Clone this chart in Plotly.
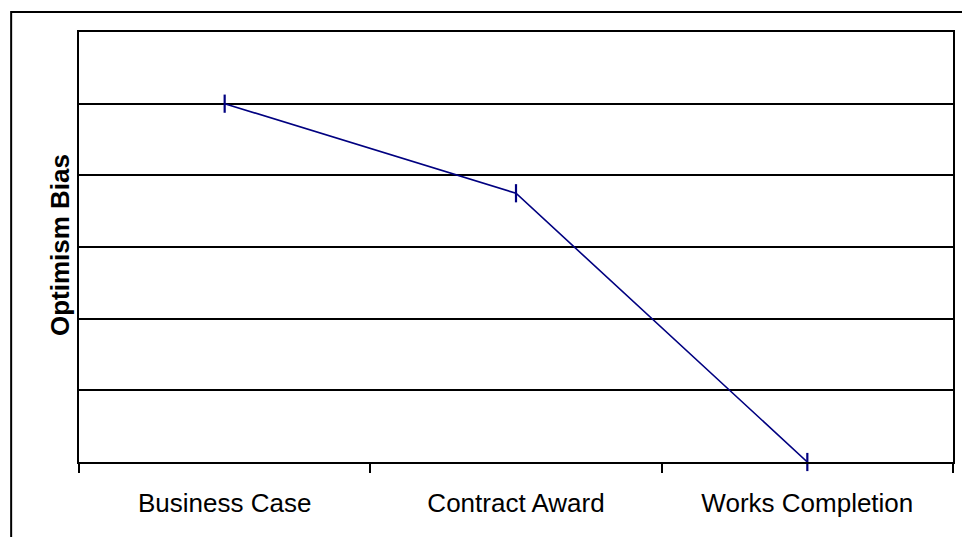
import plotly.graph_objects as go

categories = ["Business Case", "Contract Award", "Works Completion"]
optimism_bias = [5.0, 3.75, 0.0]
y_title = "Optimism Bias"

W, H = 962, 537
L, R, T, B = 79, 7, 32, 75
pw, ph = W - L - R, H - T - B

fig = go.Figure()
fig.add_trace(go.Scatter(
    x=categories, y=optimism_bias, mode="lines+markers",
    line=dict(color="#000080", width=1.6),
    marker=dict(symbol="line-ns", size=13, line=dict(color="#000080", width=2.2)),
    cliponaxis=False, showlegend=False, hoverinfo="skip",
))

fig.update_layout(
    width=W, height=H,
    margin=dict(l=L, r=R, t=T, b=B),
    paper_bgcolor="white", plot_bgcolor="white",
    font=dict(family="Liberation Sans, Arial, sans-serif", color="black"),
    xaxis=dict(
        type="category", range=[-0.5, 2.5], tickson="boundaries",
        ticks="outside", ticklen=9, tickwidth=1.5, tickcolor="black",
        showline=True, linecolor="black", linewidth=2, mirror=True,
        showgrid=False, tickfont=dict(size=26), zeroline=False,
        ticklabelstandoff=17,
    ),
    yaxis=dict(
        range=[0, 6], dtick=1, showgrid=True, gridcolor="black", gridwidth=1.5,
        showticklabels=False, ticks="", showline=True, linecolor="black",
        linewidth=2, mirror=True, zeroline=False,
    ),
    shapes=[dict(
        type="rect", xref="paper", yref="paper",
        x0=(11 - L) / pw, x1=(W + 5 - L) / pw,
        y0=-(H + 5 - (H - B)) / ph, y1=1 + (T - 12) / ph,
        line=dict(color="black", width=2), layer="below",
    )],
    annotations=[dict(
        text="<b>" + y_title + "</b>", xref="paper", yref="paper",
        x=(60 - L) / pw, y=1 - (245 - T) / ph, xanchor="center", yanchor="middle",
        textangle=-90, showarrow=False, font=dict(size=26, color="black"),
    )],
)

fig.write_html(
    "out.html",
    config={"displayModeBar": False},
    post_script="document.body.style.margin='0';document.body.style.overflow='hidden';",
)
